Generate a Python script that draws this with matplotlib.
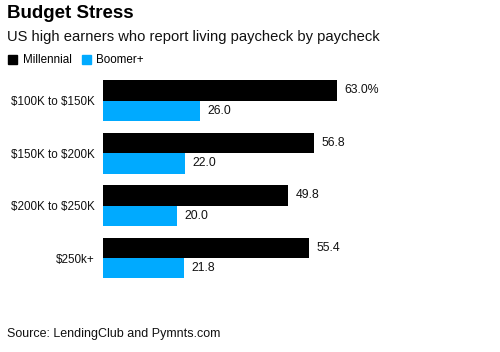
import numpy as np
import matplotlib
matplotlib.use("Agg")
import matplotlib.pyplot as plt
from matplotlib.patches import Rectangle

plt.rcParams['font.family'] = ['Liberation Sans', 'DejaVu Sans']
plt.rcParams['text.parse_math'] = False

# data
categories = ['$100K to $150K', '$150K to $200K', '$200K to $250K', '$250k+']
millennial = [63.0, 56.8, 49.8, 55.4]
boomer = [26.0, 22.0, 20.0, 21.8]
millennial_labels = ['63.0%', '56.8', '49.8', '55.4']
boomer_labels = ['26.0', '22.0', '20.0', '21.8']

black = '#000000'
blue = '#00aaff'

fig = plt.figure(figsize=(5.0, 3.52), dpi=100)
ax = fig.add_axes([0.206, 0.1903, 0.754, 0.5966])

y = np.arange(len(categories))
h = 0.39
ax.barh(y - h / 2, millennial, height=h, color=black)
ax.barh(y + h / 2, boomer, height=h, color=blue)

for i in range(len(categories)):
    ax.text(millennial[i] + 2.0, y[i] - h / 2, millennial_labels[i],
            va='center', ha='left', fontsize=8.8, color='#111111')
    ax.text(boomer[i] + 2.0, y[i] + h / 2, boomer_labels[i],
            va='center', ha='left', fontsize=8.8, color='#111111')

ax.set_xlim(0, 101.5)
ax.set_ylim(3.515, -0.49)
ax.set_yticks(y)
ax.set_yticklabels(categories, fontsize=8.4, color='#111111')
ax.tick_params(axis='y', length=0, pad=5.8)
ax.set_xticks([])
for s in ax.spines.values():
    s.set_visible(False)

# titles
fig.text(7 / 500, 1 - 14 / 352, 'Budget Stress', fontsize=13.5, fontweight='bold',
         va='center', ha='left')
fig.text(7 / 500, 1 - 37 / 352, 'US high earners who report living paycheck by paycheck',
         fontsize=10.6, va='center', ha='left', color='#111111')

# legend
fig.patches.append(Rectangle((8 / 500, 1 - 64 / 352), 9 / 500, 9 / 352,
                             transform=fig.transFigure, color=black))
fig.text(23 / 500, 1 - 60 / 352, 'Millennial', fontsize=8.4, va='center', ha='left')
fig.patches.append(Rectangle((82 / 500, 1 - 64 / 352), 9 / 500, 9 / 352,
                             transform=fig.transFigure, color=blue))
fig.text(96 / 500, 1 - 60 / 352, 'Boomer+', fontsize=8.4, va='center', ha='left')

fig.text(7 / 500, 1 - 334 / 352, 'Source: LendingClub and Pymnts.com',
         fontsize=9.0, va='center', ha='left', color='#111111')

fig.savefig('out.png', dpi=100)
